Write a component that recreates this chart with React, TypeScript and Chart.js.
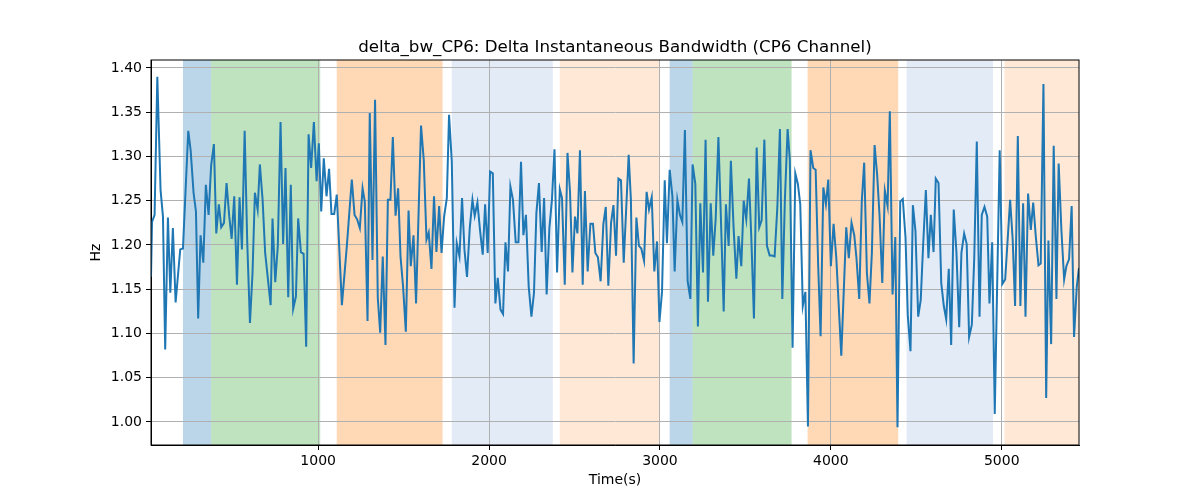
import { useEffect, useRef } from "react"
import { Chart, registerables } from "chart.js"

Chart.register(...registerables)

const times = [
  22, 28, 43, 59, 78, 92, 105, 121, 135, 150, 166, 193, 209, 240, 254, 271, 285, 298, 312, 328,
  343, 359, 374, 390, 404, 419, 433, 449, 464, 480, 494, 509, 525, 540, 554, 570, 585, 601, 616, 630,
  646, 659, 675, 690, 722, 733, 749, 764, 780, 795, 809, 825, 840, 854, 870, 883, 899, 915, 930, 944,
  959, 975, 991, 1004, 1018, 1033, 1049, 1064, 1078, 1094, 1109, 1139, 1168, 1197, 1213, 1228, 1244, 1260, 1273, 1289,
  1302, 1318, 1333, 1349, 1363, 1378, 1394, 1408, 1423, 1437, 1453, 1468, 1482, 1497, 1513, 1529, 1542, 1558, 1573, 1602,
  1618, 1634, 1647, 1663, 1678, 1692, 1708, 1722, 1737, 1753, 1766, 1782, 1798, 1811, 1827, 1842, 1856, 1871, 1887, 1903,
  1916, 1932, 1947, 1963, 1977, 1992, 2006, 2022, 2037, 2051, 2067, 2082, 2096, 2111, 2125, 2140, 2156, 2172, 2187, 2201,
  2216, 2232, 2248, 2263, 2277, 2292, 2308, 2322, 2337, 2353, 2368, 2383, 2398, 2414, 2427, 2443, 2459, 2474, 2488, 2503,
  2517, 2532, 2548, 2561, 2577, 2593, 2608, 2622, 2637, 2653, 2669, 2683, 2698, 2714, 2728, 2743, 2757, 2772, 2788, 2817,
  2830, 2846, 2862, 2877, 2891, 2907, 2922, 2936, 2952, 2967, 2983, 2997, 3012, 3028, 3041, 3057, 3073, 3086, 3102, 3117,
  3131, 3146, 3162, 3178, 3191, 3207, 3222, 3236, 3252, 3267, 3281, 3297, 3312, 3326, 3342, 3357, 3373, 3386, 3402, 3415,
  3431, 3447, 3460, 3476, 3490, 3505, 3521, 3535, 3550, 3566, 3581, 3595, 3611, 3626, 3642, 3655, 3671, 3687, 3702, 3716,
  3731, 3747, 3760, 3776, 3792, 3807, 3821, 3836, 3851, 3866, 3881, 3897, 3911, 3926, 3940, 3956, 3971, 3985, 4000, 4016,
  4032, 4061, 4090, 4105, 4121, 4137, 4150, 4166, 4181, 4195, 4211, 4226, 4240, 4256, 4271, 4285, 4301, 4316, 4332, 4345,
  4361, 4377, 4390, 4406, 4421, 4437, 4450, 4466, 4480, 4495, 4511, 4526, 4540, 4556, 4571, 4585, 4601, 4614, 4630, 4646,
  4661, 4675, 4690, 4704, 4719, 4735, 4751, 4764, 4780, 4795, 4809, 4825, 4839, 4854, 4870, 4883, 4899, 4915, 4928, 4944,
  4959, 4988, 5004, 5020, 5049, 5064, 5078, 5094, 5109, 5125, 5139, 5154, 5170, 5184, 5199, 5215, 5228, 5244, 5260, 5273,
  5289, 5304, 5320, 5333, 5349, 5365, 5378, 5394, 5409, 5423, 5439, 5452,
]

const deltaBw = [
  1.164, 1.226, 1.234, 1.39, 1.262, 1.232, 1.082, 1.231, 1.146, 1.219, 1.135, 1.195, 1.196, 1.329, 1.307, 1.259, 1.238, 1.117, 1.211, 1.18,
  1.268, 1.234, 1.29, 1.314, 1.213, 1.246, 1.22, 1.225, 1.27, 1.232, 1.207, 1.255, 1.155, 1.254, 1.195, 1.329, 1.204, 1.112, 1.168, 1.259,
  1.24, 1.291, 1.251, 1.191, 1.132, 1.23, 1.158, 1.199, 1.339, 1.201, 1.287, 1.141, 1.268, 1.128, 1.142, 1.23, 1.192, 1.19, 1.085, 1.325,
  1.287, 1.339, 1.272, 1.315, 1.238, 1.298, 1.255, 1.286, 1.235, 1.235, 1.257, 1.132, 1.199, 1.274, 1.234, 1.229, 1.219, 1.264, 1.249, 1.114,
  1.349, 1.183, 1.364, 1.14, 1.101, 1.187, 1.087, 1.251, 1.251, 1.322, 1.233, 1.264, 1.187, 1.153, 1.102, 1.239, 1.176, 1.211, 1.134, 1.335,
  1.296, 1.206, 1.214, 1.173, 1.255, 1.192, 1.244, 1.191, 1.232, 1.253, 1.347, 1.294, 1.129, 1.202, 1.187, 1.253, 1.195, 1.164, 1.219, 1.251,
  1.233, 1.248, 1.217, 1.189, 1.246, 1.191, 1.283, 1.281, 1.134, 1.163, 1.127, 1.122, 1.203, 1.17, 1.266, 1.251, 1.203, 1.203, 1.294, 1.211,
  1.234, 1.153, 1.119, 1.146, 1.236, 1.27, 1.192, 1.253, 1.144, 1.219, 1.251, 1.308, 1.169, 1.263, 1.253, 1.155, 1.304, 1.259, 1.169, 1.232,
  1.213, 1.307, 1.155, 1.261, 1.17, 1.224, 1.224, 1.191, 1.186, 1.159, 1.224, 1.243, 1.154, 1.225, 1.245, 1.188, 1.275, 1.273, 1.18, 1.302,
  1.251, 1.066, 1.231, 1.199, 1.196, 1.182, 1.26, 1.24, 1.254, 1.17, 1.204, 1.113, 1.147, 1.273, 1.202, 1.285, 1.255, 1.17, 1.251, 1.234,
  1.226, 1.33, 1.159, 1.139, 1.291, 1.269, 1.108, 1.247, 1.169, 1.319, 1.136, 1.247, 1.188, 1.229, 1.322, 1.228, 1.125, 1.246, 1.199, 1.295,
  1.219, 1.162, 1.21, 1.176, 1.25, 1.229, 1.275, 1.206, 1.117, 1.31, 1.22, 1.228, 1.319, 1.199, 1.188, 1.188, 1.187, 1.243, 1.331, 1.139,
  1.251, 1.331, 1.296, 1.084, 1.281, 1.269, 1.246, 1.131, 1.147, 0.995, 1.307, 1.287, 1.285, 1.176, 1.097, 1.265, 1.246, 1.274, 1.176, 1.224,
  1.185, 1.075, 1.22, 1.185, 1.225, 1.211, 1.185, 1.139, 1.249, 1.293, 1.168, 1.134, 1.191, 1.313, 1.279, 1.233, 1.157, 1.261, 1.244, 1.351,
  1.144, 1.209, 0.994, 1.249, 1.252, 1.208, 1.121, 1.08, 1.245, 1.216, 1.119, 1.138, 1.2, 1.262, 1.185, 1.234, 1.192, 1.275, 1.27, 1.157,
  1.131, 1.116, 1.173, 1.087, 1.24, 1.191, 1.107, 1.191, 1.213, 1.201, 1.096, 1.11, 1.185, 1.317, 1.119, 1.234, 1.243, 1.232, 1.134, 1.203,
  1.009, 1.307, 1.156, 1.161, 1.251, 1.206, 1.131, 1.323, 1.131, 1.247, 1.119, 1.258, 1.217, 1.248, 1.21, 1.177, 1.179, 1.382, 1.027, 1.205,
  1.088, 1.312, 1.139, 1.292, 1.217, 1.161, 1.176, 1.184, 1.244, 1.096, 1.153, 1.174,
]

// shaded phases (start, end, colour)
const bandStarts = [209, 374, 1109, 1782, 2414, 3057, 3191, 3864, 4443, 5016]
const bandEnds = [374, 1012, 1728, 2373, 2997, 3191, 3770, 4394, 4949, 5460]
const bandColors = [
  "rgba(31, 119, 180, 0.3)",
  "rgba(44, 160, 44, 0.3)",
  "rgba(255, 127, 14, 0.3)",
  "rgba(174, 199, 232, 0.35)",
  "rgba(255, 127, 14, 0.17)",
  "rgba(31, 119, 180, 0.3)",
  "rgba(44, 160, 44, 0.3)",
  "rgba(255, 127, 14, 0.3)",
  "rgba(174, 199, 232, 0.35)",
  "rgba(255, 127, 14, 0.17)",
]

const xTicks = [1000, 2000, 3000, 4000, 5000]
const yTicks = [1.0, 1.05, 1.1, 1.15, 1.2, 1.25, 1.3, 1.35, 1.4]

const FONT = "'DejaVu Sans', sans-serif"

const bandsPlugin = {
  id: "bands",
  beforeDraw(chart: any) {
    const { ctx, chartArea, scales } = chart
    ctx.save()
    ctx.beginPath()
    ctx.rect(chartArea.left, chartArea.top, chartArea.right - chartArea.left, chartArea.bottom - chartArea.top)
    ctx.clip()
    bandStarts.forEach((s, i) => {
      const x0 = scales.x.getPixelForValue(s)
      const x1 = scales.x.getPixelForValue(bandEnds[i])
      ctx.fillStyle = bandColors[i]
      ctx.fillRect(x0, chartArea.top, x1 - x0, chartArea.bottom - chartArea.top)
    })
    ctx.restore()
  },
  afterDraw(chart: any) {
    const { ctx, chartArea } = chart
    ctx.save()
    ctx.strokeStyle = "#000"
    ctx.lineWidth = 1
    ctx.strokeRect(chartArea.left, chartArea.top, chartArea.right - chartArea.left, chartArea.bottom - chartArea.top)
    ctx.fillStyle = "#000"
    ctx.font = `16.7px ${FONT}`
    ctx.textAlign = "center"
    ctx.textBaseline = "alphabetic"
    ctx.fillText(
      "delta_bw_CP6: Delta Instantaneous Bandwidth (CP6 Channel)",
      (chartArea.left + chartArea.right) / 2,
      52
    )
    ctx.restore()
  },
}

export default function App() {
  const chartRef = useRef<HTMLCanvasElement>(null)
  const chartInstance = useRef<Chart | null>(null)

  useEffect(() => {
    if (!chartRef.current) return
    if (chartInstance.current) chartInstance.current.destroy()

    const points = times.map((t, i) => ({ x: t, y: deltaBw[i] }))

    chartInstance.current = new Chart(chartRef.current, {
      type: "line",
      data: {
        datasets: [
          {
            label: "delta_bw_CP6",
            data: points,
            borderColor: "#1f77b4",
            borderWidth: 2,
            pointRadius: 0,
            tension: 0,
            fill: false,
          },
        ],
      },
      options: {
        animation: false,
        responsive: false,
        devicePixelRatio: 1,
        layout: { padding: { top: 60, right: 121, left: 0, bottom: 0 } },
        plugins: {
          legend: { display: false },
          tooltip: { enabled: false },
        },
        scales: {
          x: {
            type: "linear",
            min: 22,
            max: 5452,
            afterFit: (scale: any) => {
              scale.height = 55
            },
            afterBuildTicks: (scale: any) => {
              scale.ticks = xTicks.map((v) => ({ value: v }))
            },
            grid: { color: "#b0b0b0", lineWidth: 1, tickColor: "#000", tickLength: 5 },
            border: { color: "#000" },
            ticks: {
              color: "#000",
              font: { family: FONT, size: 14 },
              padding: 3,
              maxRotation: 0,
              callback: (v: any) => String(v),
            },
            title: {
              display: true,
              text: "Time(s)",
              color: "#000",
              font: { family: FONT, size: 14 },
              padding: { top: 0, bottom: 11 },
            },
          },
          y: {
            type: "linear",
            min: 0.974,
            max: 1.409,
            afterFit: (scale: any) => {
              scale.width = 151
            },
            afterBuildTicks: (scale: any) => {
              scale.ticks = yTicks.map((v) => ({ value: v }))
            },
            grid: { color: "#b0b0b0", lineWidth: 1, tickColor: "#000", tickLength: 5 },
            border: { color: "#000" },
            ticks: {
              color: "#000",
              font: { family: FONT, size: 14 },
              padding: 4,
              callback: (v: any) => Number(v).toFixed(2),
            },
            title: {
              display: true,
              text: "Hz",
              color: "#000",
              font: { family: FONT, size: 14 },
              padding: { top: 88, bottom: 0 },
            },
          },
        },
      },
      plugins: [bandsPlugin],
    })

    return () => {
      if (chartInstance.current) {
        chartInstance.current.destroy()
        chartInstance.current = null
      }
    }
  }, [])

  return (
    <div style={{ position: "absolute", left: 0, top: 0, width: 1200, height: 500, background: "#fff" }}>
      <canvas ref={chartRef} width={1200} height={500} />
    </div>
  )
}
